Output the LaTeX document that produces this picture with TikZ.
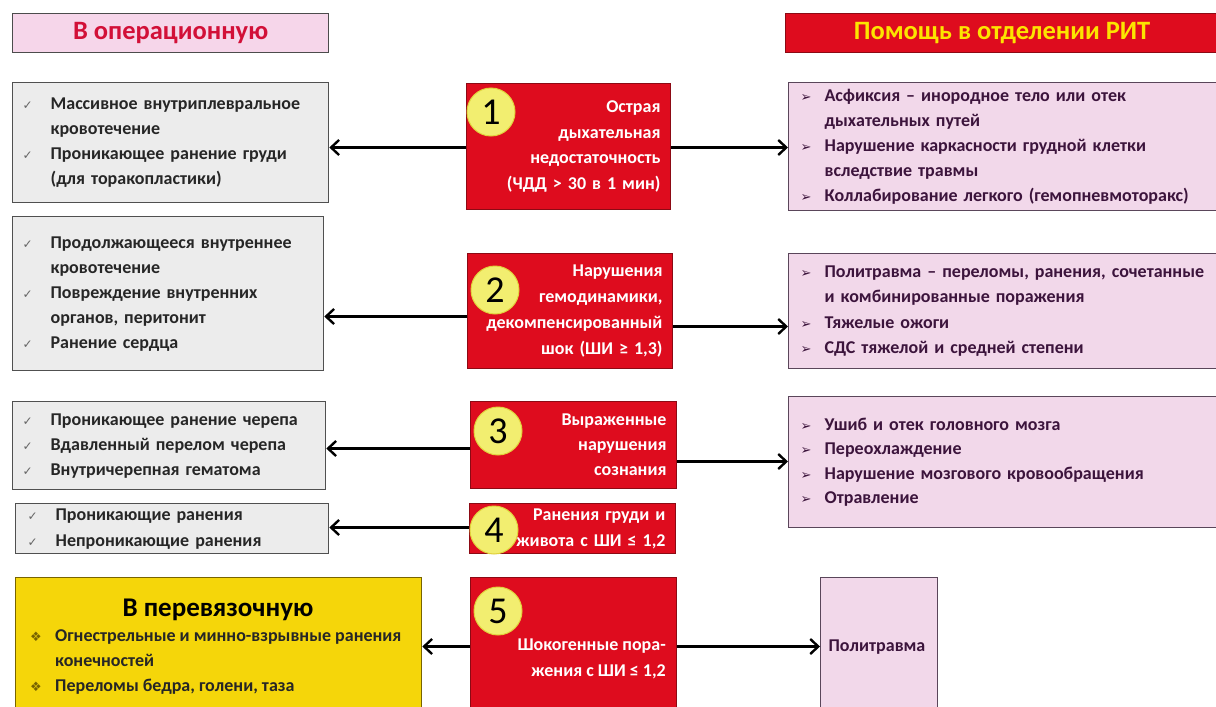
\documentclass[tikz,border=0pt]{standalone}
\usepackage{fontspec}
\setmainfont{Carlito}
\newfontfamily\symf{DejaVu Sans}
\usetikzlibrary{arrows.meta,calc}
\definecolor{rRed}{RGB}{222,12,30}
\definecolor{rRedB}{RGB}{140,10,20}
\definecolor{hPink}{RGB}{246,214,234}
\definecolor{gFill}{RGB}{236,236,236}
\definecolor{gBord}{RGB}{80,80,80}
\definecolor{pFill}{RGB}{242,216,234}
\definecolor{pBord}{RGB}{90,70,90}
\definecolor{pText}{RGB}{60,20,60}
\definecolor{yFill}{RGB}{245,214,10}
\definecolor{yBord}{RGB}{120,100,0}
\definecolor{cFill}{RGB}{242,238,112}
\definecolor{cBord}{RGB}{225,210,60}
\definecolor{hRedTxt}{RGB}{210,16,56}
\definecolor{hYelTxt}{RGB}{252,228,0}
\newcommand{\ck}{\makebox[28pt][l]{\textcolor{black!60}{\symf\fontsize{12}{12}\selectfont ✓}}}
\newcommand{\ckin}{\hspace*{28pt}}
\newcommand{\ar}{\makebox[24pt][l]{\textcolor{pText}{\symf\fontsize{13}{13}\selectfont ➢}}}
\newcommand{\arin}{\hspace*{24pt}}
\newcommand{\dm}{\makebox[25pt][l]{\textcolor{yBord}{\symf\fontsize{13}{13}\selectfont ❖}}}
\newcommand{\dmin}{\hspace*{25pt}}
\begin{document}
\begin{tikzpicture}[x=1pt,y=-1pt,
  bodyfont/.style={font=\bfseries\fontsize{18}{25}\selectfont},
  hdr/.style={draw, line width=1.2pt, anchor=north west, inner sep=0pt, font=\bfseries\fontsize{26.5}{28}\selectfont},
  graybox/.style={draw=gBord, fill=gFill, line width=1.3pt, anchor=north west, inner xsep=10pt, inner ysep=0pt, align=left, text=black!85, bodyfont},
  pinkbox/.style={draw=pBord, fill=pFill, line width=1.3pt, anchor=north west, inner xsep=12pt, inner ysep=0pt, align=left, text=pText, bodyfont},
  redbox/.style={draw=rRedB, fill=rRed, line width=1pt, anchor=north west, inner xsep=10pt, inner ysep=0pt, align=right, text=white, bodyfont},
  num/.style={circle, fill=cFill, draw=cBord, line width=1pt, minimum size=48pt, inner sep=0pt, font=\fontsize{38}{38}\selectfont},
  arr/.style={line width=2.4pt, -{Straight Barb[length=8pt,width=15pt]}}
]
\useasboundingbox (0,0) rectangle (1216,707);
\fill[white] (0,0) rectangle (1216,707);

% headers
\node[hdr, draw=black!70, fill=hPink, text=hRedTxt, minimum width=316pt, minimum height=39pt] (h1) at (12,13) {В операционную};
\node[hdr, draw=rRedB, fill=rRed, text=hYelTxt, minimum width=433pt, minimum height=39pt] (h2) at (785,13) {Помощь в отделении РИТ};

% left grey boxes
\node[graybox, minimum width=316pt, minimum height=120pt, text width=296pt] (l1) at (12,82)
 {\ck Массивное внутриплевральное\\ \ckin кровотечение\\ \ck Проникающее ранение груди\\ \ckin (для торакопластики)};
\node[graybox, minimum width=311pt, minimum height=154pt, text width=291pt] (l2) at (12,216)
 {\ck Продолжающееся внутреннее\\ \ckin кровотечение\\ \ck Повреждение внутренних\\ \ckin органов, перитонит\\ \ck Ранение сердца};
\node[graybox, minimum width=313pt, minimum height=88pt, text width=293pt] (l3) at (12,401)
 {\ck Проникающее ранение черепа\\ \ck Вдавленный перелом черепа\\ \ck Внутричерепная гематома};
\node[graybox, inner xsep=12pt, minimum width=313pt, minimum height=50pt, text width=289pt, font=\bfseries\fontsize{18}{26}\selectfont] (l4) at (15,503)
 {\ck Проникающие ранения\\ \ck Непроникающие ранения};

% yellow box
\node[draw=yBord, fill=yFill, line width=1.3pt, anchor=north west, minimum width=406pt, minimum height=135pt] (y5) at (15,577) {};
\node[font=\bfseries\fontsize{27}{28}\selectfont, text=black] (y5t) at (218,610) {В перевязочную};
\node[anchor=north west, align=left, inner sep=0pt, text=black!85, bodyfont] (y5l) at (30,629)
 {\dm Огнестрельные и минно-взрывные ранения\\ \dmin конечностей\\ \dm Переломы бедра, голени, таза};

% red boxes
\node[redbox, minimum width=204pt, minimum height=126pt, text width=184pt, font=\bfseries\fontsize{18}{25.5}\selectfont] (r1) at (466,83)
 {Острая\\ дыхательная\\ недостаточность\\ (ЧДД > 30 в 1 мин)};
\node[redbox, minimum width=205pt, minimum height=115pt, text width=185pt, font=\bfseries\fontsize{18}{25.7}\selectfont] (r2) at (467,253)
 {Нарушения\\ гемодинамики,\\ декомпенсированный\\ шок (ШИ ≥ 1,3)};
\node[redbox, minimum width=206pt, minimum height=87pt, text width=186pt] (r3) at (470,401)
 {Выраженные\\ нарушения\\ сознания};
\node[redbox, minimum width=206pt, minimum height=50pt, text width=186pt, font=\bfseries\fontsize{18}{26}\selectfont] (r4) at (469,503)
 {Ранения груди и\\ живота с ШИ ≤ 1,2};
\node[redbox, minimum width=206pt, minimum height=138pt] (r5) at (470,577) {};
\node[anchor=north east, align=right, inner sep=0pt, text=white, font=\bfseries\fontsize{18}{26}\selectfont] (r5t) at (666,639)
 {Шокогенные пора-\\ жения с ШИ ≤ 1,2};

% numbers
\node[num] (c1) at (491,112) {1};
\node[num] (c2) at (495,290) {2};
\node[num] (c3) at (498,431) {3};
\node[num] (c4) at (494,530) {4};
\node[num] (c5) at (498,611) {5};

% right pink boxes
\node[pinkbox, minimum width=432pt, minimum height=128pt, text width=408pt] (p1) at (788,82)
 {\ar Асфиксия – инородное тело или отек\\ \arin дыхательных путей\\ \ar Нарушение каркасности грудной клетки\\ \arin вследствие травмы\\ \ar Коллабирование легкого (гемопневмоторакс)};
\node[pinkbox, minimum width=432pt, minimum height=115pt, text width=408pt, font=\bfseries\fontsize{18}{25.5}\selectfont] (p2) at (788,253)
 {\ar Политравма – переломы, ранения, сочетанные\\ \arin и комбинированные поражения\\ \ar Тяжелые ожоги\\ \ar СДС тяжелой и средней степени};
\node[pinkbox, minimum width=432pt, minimum height=131pt, text width=408pt, font=\bfseries\fontsize{18}{24.5}\selectfont] (p3) at (788,396)
 {\ar Ушиб и отек головного мозга\\ \ar Переохлаждение\\ \ar Нарушение мозгового кровообращения\\ \ar Отравление};
\node[pinkbox, inner xsep=8pt, minimum width=117pt, minimum height=138pt, text width=101pt] (p5) at (820,577)
 {Политравма};

% connectors
\coordinate (a1) at ($(r1.west)+(0,1)$);
\coordinate (b1) at ($(r1.east)+(0,1)$);
\draw[arr] (a1) -- (a1 -| l1.east);
\draw[arr] (b1) -- (b1 -| p1.west);
\coordinate (a2) at ($(r2.west)+(0,5.5)$);
\coordinate (b2) at ($(r2.east)+(0,15.5)$);
\draw[arr] (a2) -- (a2 -| l2.east);
\draw[arr] (b2) -- (b2 -| p2.west);
\coordinate (a3) at ($(r3.west)+(0,3.5)$);
\coordinate (b3) at ($(r3.east)+(0,16.5)$);
\draw[arr] (a3) -- (a3 -| l3.east);
\draw[arr] (b3) -- (b3 -| p3.west);
\coordinate (a4) at ($(r4.west)+(0,-1)$);
\draw[arr] (a4) -- (a4 -| l4.east);
\draw[arr] (r5.west) -- (r5.west -| y5.east);
\draw[arr] (r5.east) -- (r5.east -| p5.west);
\end{tikzpicture}
\end{document}
